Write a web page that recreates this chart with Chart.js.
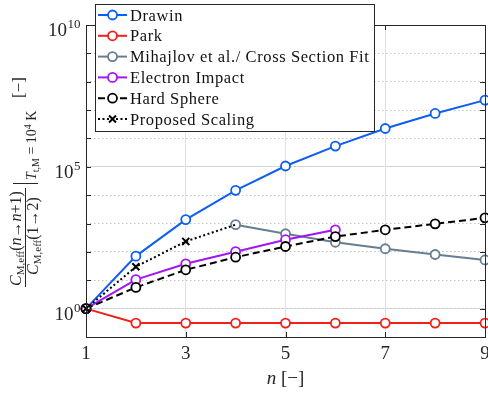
<!DOCTYPE html>
<html>
<head>
<meta charset="utf-8">
<script src="https://cdn.jsdelivr.net/npm/chart.js@4.4.1/dist/chart.umd.min.js"></script>
<style>
  html, body { margin: 0; padding: 0; background: #fff; }
</style>
</head>
<body>
<canvas id="grafico" width="488" height="395"></canvas>
<script>
// Razão dos coeficientes efetivos por nível n (T = 10^4 K)

const niveis = [1, 2, 3, 4, 5, 6, 7, 8, 9];
const drawin = [1, 71, 1380, 14800, 107000, 537000, 2.24e6, 7.6e6, 2.24e7];
const park = [1, 0.31, 0.31, 0.31, 0.31, 0.31, 0.31, 0.31, 0.31];
const mihajlov = [null, null, null, 912, 437, 219, 129, 81, 52];
const impactoEletron = [1, 10.5, 38, 102, 269, 603, null, null, null];
const esferaRigida = [1, 5.6, 23.4, 65, 155, 347, 603, 977, 1585];
const escalaProposta = [1, 30, 234, 912, null, null, null, null, null];

const ticksX = [1, 3, 5, 7, 9];
const expoentesMaiores = [0, 5, 10];
const expoentesMenores = [-1, 0, 1, 2, 3, 4, 5, 6, 7, 8, 9, 10];

const SERIFA = '"Liberation Serif", "Times New Roman", serif';
const COR_EIXO = '#262626';

function serie(rotulo, valores, cor, extra) {
    return Object.assign({
        label: rotulo,
        data: niveis.map((n, i) => ({ x: n, y: valores[i] })),
        borderColor: cor,
        backgroundColor: '#fff',
        borderWidth: 2,
        pointStyle: 'circle',
        pointRadius: 4.5,
        pointBorderWidth: 1.8,
        pointBackgroundColor: '#fff',
        pointBorderColor: cor,
        spanGaps: false,
        clip: false
    }, extra);
}

const datasets = [
    serie('Drawin', drawin, '#0d5ef2'),
    serie('Park', park, '#f0201a'),
    serie('Mihajlov et al./ Cross Section Fit', mihajlov, '#687d90'),
    serie('Electron Impact', impactoEletron, '#a414f7'),
    serie('Hard Sphere', esferaRigida, '#000000', { borderDash: [7, 4] }),
    serie('Proposed Scaling', escalaProposta, '#000000', {
        borderDash: [2, 2.5],
        pointStyle: 'crossRot',
        pointRadius: [5, 5, 5, 0, 0, 0, 0, 0, 0],
        pointBorderWidth: 2
    })
];
// as últimas séries ficam por cima
datasets.forEach((d, i) => { d.order = -i; });

// ─── texto com itálico, sub e sobrescrito ─────────────────────────────
function fonte(t) {
    return `${t.i ? 'italic ' : ''}${t.s}px ${SERIFA}`;
}
function larguraTrechos(ctx, trechos) {
    return trechos.reduce((w, t) => {
        ctx.font = fonte(t);
        return w + ctx.measureText(t.t).width;
    }, 0);
}
function escreverTrechos(ctx, trechos, x, y) {
    trechos.forEach((t) => {
        ctx.font = fonte(t);
        ctx.fillText(t.t, x, y + (t.d || 0));
        x += ctx.measureText(t.t).width;
    });
}

const numerador = [
    { t: 'C', s: 16, i: true }, { t: 'M,eff', s: 11, d: 2.5 },
    { t: '(', s: 16 }, { t: 'n', s: 16, i: true }, { t: '→', s: 16 },
    { t: 'n', s: 16, i: true }, { t: '+1)', s: 16 }
];
const denominador = [
    { t: 'C', s: 16, i: true }, { t: 'M,eff', s: 11, d: 2.5 },
    { t: '(1→2)', s: 16 }
];
const avaliacao = [
    { t: 'T', s: 14, i: true }, { t: 't,M', s: 10, d: 3 },
    { t: ' = 10', s: 14 }, { t: '4', s: 10, d: -5 }, { t: ' K', s: 14 }
];
const unidadeY = [{ t: '[−]', s: 17 }];
const tituloX = [{ t: 'n', s: 19, i: true }, { t: ' [−]', s: 19 }];

// moldura, marcas internas e rótulos do eixo y
const moldura = {
    id: 'moldura',
    afterDatasetsDraw(chart) {
        const { ctx, chartArea: a, scales } = chart;
        ctx.save();
        ctx.strokeStyle = COR_EIXO;
        ctx.lineWidth = 1;
        ctx.beginPath();
        expoentesMenores.forEach((e) => {
            const y = Math.round(scales.y.getPixelForValue(Math.pow(10, e))) + 0.5;
            ctx.moveTo(a.left, y); ctx.lineTo(a.left + 5, y);
            ctx.moveTo(a.right, y); ctx.lineTo(a.right - 5, y);
        });
        ticksX.forEach((v) => {
            const x = Math.round(scales.x.getPixelForValue(v)) + 0.5;
            ctx.moveTo(x, a.bottom); ctx.lineTo(x, a.bottom - 5);
            ctx.moveTo(x, a.top); ctx.lineTo(x, a.top + 5);
        });
        ctx.stroke();
        ctx.strokeRect(Math.round(a.left) + 0.5, Math.round(a.top) + 0.5,
            Math.round(a.right - a.left), Math.round(a.bottom - a.top));
        ctx.restore();
    },
    afterDraw(chart) {
        const { ctx, chartArea: a, scales } = chart;
        ctx.save();
        ctx.fillStyle = COR_EIXO;
        ctx.textBaseline = 'alphabetic';
        ctx.textAlign = 'left';

        expoentesMaiores.forEach((e) => {
            const y = scales.y.getPixelForValue(Math.pow(10, e));
            ctx.font = `13px ${SERIFA}`;
            const we = ctx.measureText(String(e)).width;
            ctx.font = `19px ${SERIFA}`;
            const wb = ctx.measureText('10').width;
            const x0 = a.left - 6 - we - wb;
            ctx.fillText('10', x0, y + 11);
            ctx.font = `13px ${SERIFA}`;
            ctx.fillText(String(e), x0 + wb + 0.5, y + 3);
        });

        const wx = larguraTrechos(ctx, tituloX);
        escreverTrechos(ctx, tituloX, (a.left + a.right) / 2 - wx / 2, 384);

        // rótulo do eixo y, girado
        ctx.rotate(-Math.PI / 2);
        const wn = larguraTrechos(ctx, numerador);
        escreverTrechos(ctx, numerador, -238.5 - wn / 2, 21);
        const wd = larguraTrechos(ctx, denominador);
        escreverTrechos(ctx, denominador, -236 - wd / 2, 38);
        ctx.strokeStyle = COR_EIXO;
        ctx.lineWidth = 1;
        ctx.beginPath();
        ctx.moveTo(-287, 25.5); ctx.lineTo(-188, 25.5);
        ctx.moveTo(-183.5, 13); ctx.lineTo(-183.5, 38);
        ctx.stroke();
        escreverTrechos(ctx, avaliacao, -180, 36);
        escreverTrechos(ctx, unidadeY, -98, 24);
        ctx.restore();
    }
};

// legenda no canto superior, por cima de tudo
const legenda = {
    id: 'legenda',
    afterDraw(chart) {
        const ctx = chart.ctx;
        ctx.save();
        ctx.fillStyle = '#fff';
        ctx.fillRect(95, 4, 279, 127);
        ctx.strokeStyle = COR_EIXO;
        ctx.lineWidth = 1;
        ctx.strokeRect(95.5, 4.5, 279, 127);

        chart.data.datasets.forEach((ds, i) => {
            const y = 15 + i * 20.8;
            ctx.strokeStyle = ds.borderColor;
            ctx.lineWidth = ds.borderWidth;
            ctx.setLineDash(ds.borderDash || []);
            ctx.beginPath();
            ctx.moveTo(98, y); ctx.lineTo(127, y);
            ctx.stroke();
            ctx.setLineDash([]);

            ctx.lineWidth = ds.pointBorderWidth;
            ctx.beginPath();
            if (ds.pointStyle === 'crossRot') {
                ctx.moveTo(109, y - 3.5); ctx.lineTo(116, y + 3.5);
                ctx.moveTo(109, y + 3.5); ctx.lineTo(116, y - 3.5);
            } else {
                ctx.fillStyle = '#fff';
                ctx.arc(112.5, y, 4.5, 0, Math.PI * 2);
                ctx.fill();
            }
            ctx.stroke();

            ctx.fillStyle = '#111';
            ctx.font = `16.5px ${SERIFA}`;
            ctx.letterSpacing = '0.6px';
            ctx.fillText(ds.label, 130, y + 5.5);
            ctx.letterSpacing = '0px';
        });
        ctx.restore();
    }
};

new Chart(document.getElementById('grafico'), {
    type: 'line',
    data: { datasets },
    options: {
        responsive: false,
        animation: false,
        layout: { autoPadding: false, padding: { top: 25, right: 3, left: 0, bottom: 0 } },
        plugins: { legend: { display: false }, tooltip: { enabled: false } },
        scales: {
            x: {
                type: 'linear',
                min: 1,
                max: 9,
                afterBuildTicks: (s) => { s.ticks = ticksX.map((v) => ({ value: v })); },
                afterFit: (s) => { s.height = 58; s.paddingLeft = 0; s.paddingRight = 0; },
                grid: { color: '#e2e2e2', lineWidth: 1, drawTicks: false },
                border: { display: false },
                ticks: {
                    font: { family: SERIFA, size: 19 },
                    color: COR_EIXO,
                    padding: 6,
                    maxRotation: 0,
                    autoSkip: false
                }
            },
            y: {
                type: 'logarithmic',
                position: 'left',
                min: 0.1,
                max: 1e10,
                afterBuildTicks: (s) => { s.ticks = expoentesMaiores.map((e) => ({ value: Math.pow(10, e) })); },
                afterFit: (s) => { s.width = 86; },
                grid: { color: '#e2e2e2', lineWidth: 1, drawTicks: false },
                border: { display: false },
                ticks: { display: false }
            },
            yMenor: {
                type: 'logarithmic',
                position: 'left',
                min: 0.1,
                max: 1e10,
                afterBuildTicks: (s) => { s.ticks = expoentesMenores.map((e) => ({ value: Math.pow(10, e) })); },
                afterFit: (s) => { s.width = 0; },
                grid: { color: '#c4c4c4', lineWidth: 1, drawTicks: false },
                border: { display: false, dash: [1.5, 2.5] },
                ticks: { display: false }
            }
        }
    },
    plugins: [moldura, legenda]
});
</script>
</body>
</html>
